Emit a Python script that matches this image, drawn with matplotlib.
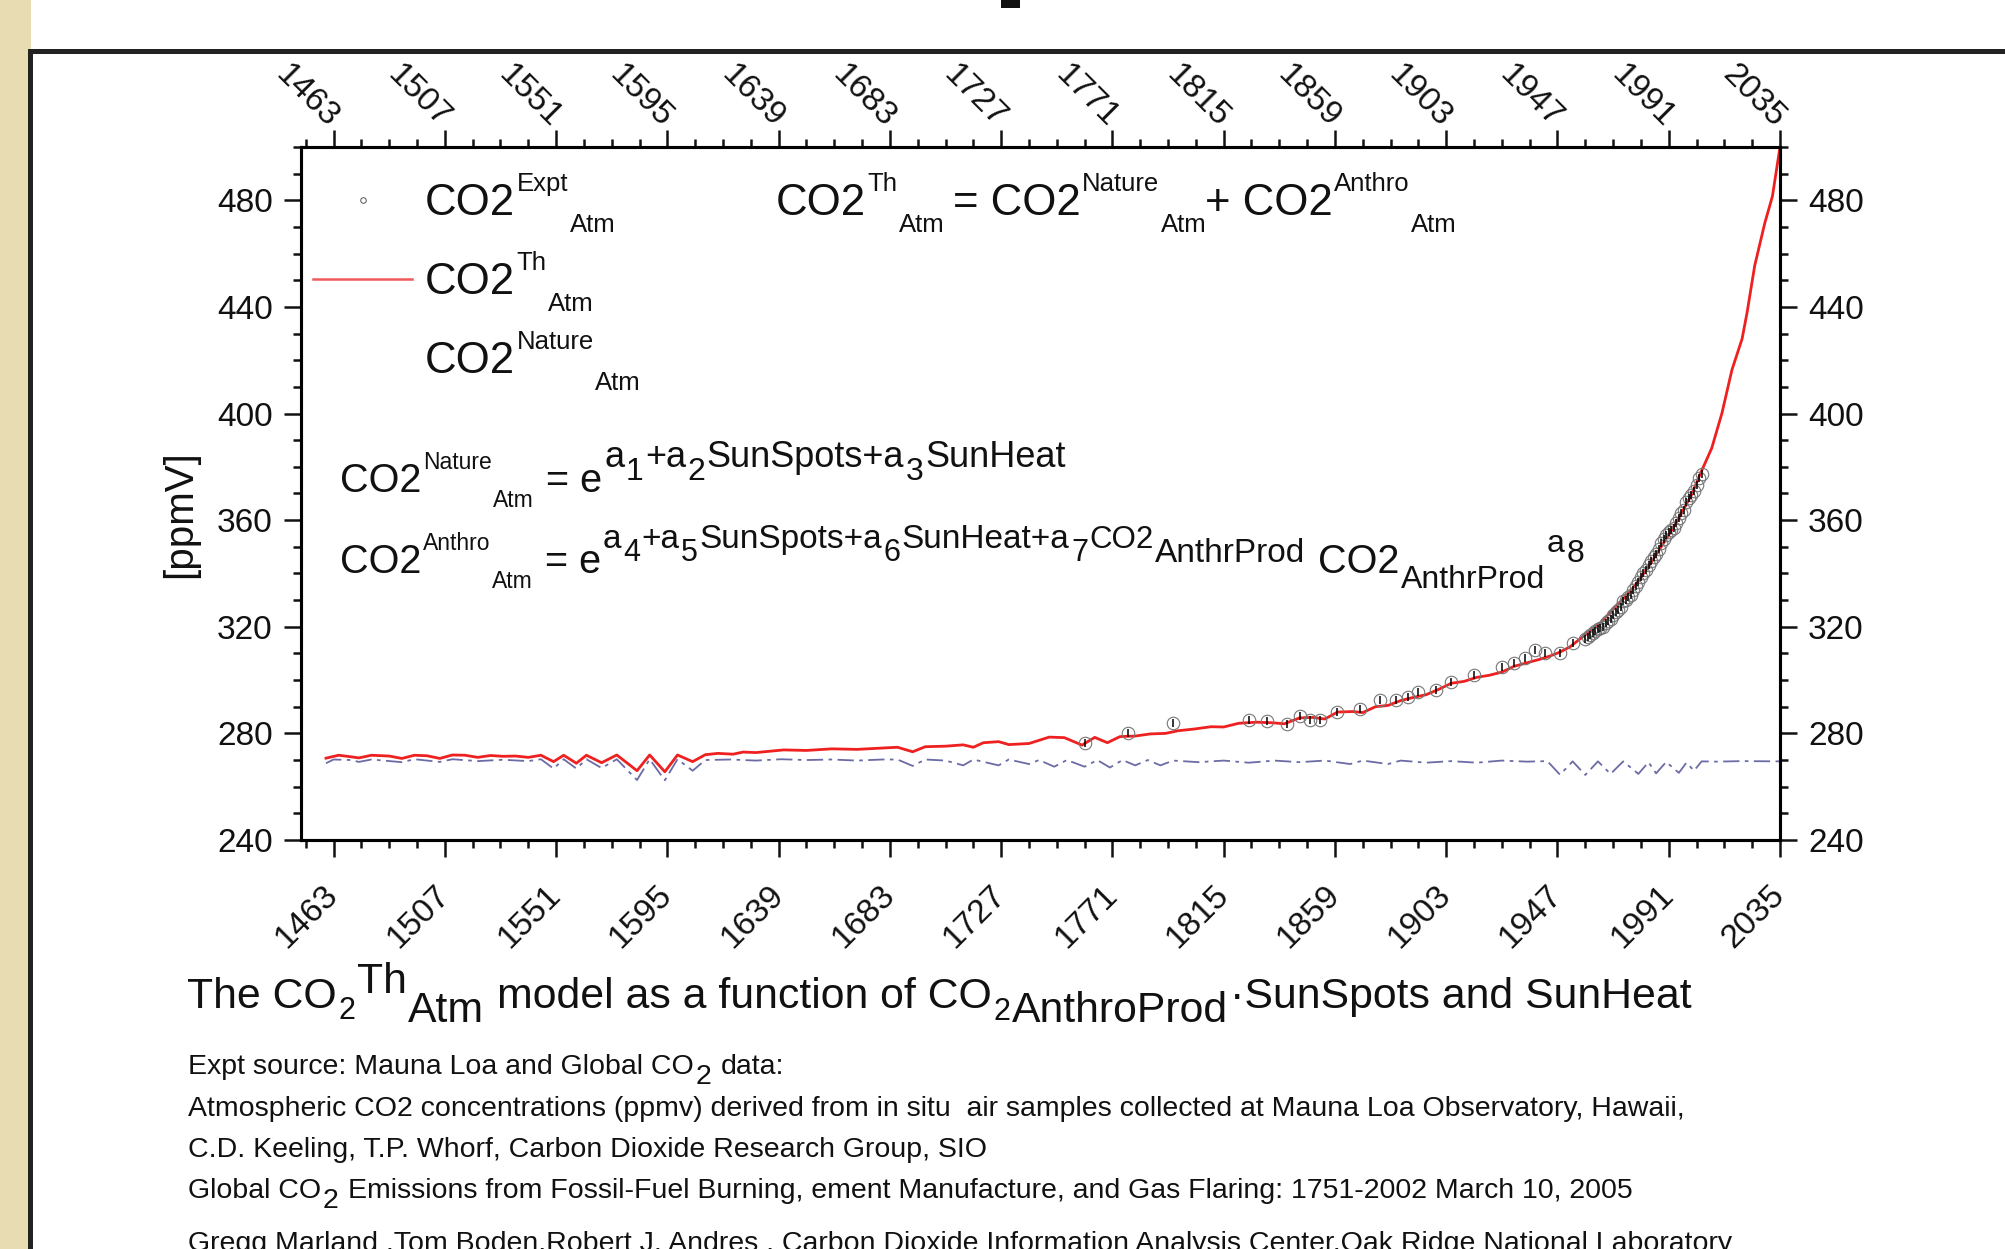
import matplotlib
matplotlib.use('Agg')
import matplotlib.pyplot as plt
from matplotlib.patches import Rectangle

plt.rcParams['font.family'] = ['Liberation Sans', 'DejaVu Sans']

W, H = 2005, 1249

# theoretical CO2 in atmosphere (red line)
th_years = [1460, 1465, 1470, 1473, 1478, 1485, 1490, 1495, 1500, 1505, 1510, 1515,
            1520, 1525, 1530, 1535, 1540, 1545, 1550, 1554, 1559, 1563, 1569, 1575,
            1583, 1588, 1594, 1599, 1605, 1610, 1615, 1621, 1625, 1630, 1641, 1650,
            1660, 1670, 1682, 1686, 1692, 1697, 1705, 1712, 1716, 1720, 1726, 1730,
            1738, 1746, 1752, 1759, 1764, 1769, 1774, 1780, 1786, 1792, 1797, 1803,
            1810, 1815, 1821, 1828, 1834, 1839, 1845, 1850, 1855, 1860, 1866, 1870,
            1875, 1880, 1885, 1890, 1895, 1900, 1905, 1910, 1915, 1920, 1925, 1930,
            1935, 1940, 1944, 1948, 1952, 1956, 1960, 1964, 1968, 1972, 1976, 1980,
            1984, 1988, 1992, 1996, 2000, 2004, 2008, 2012, 2016, 2020, 2022, 2025,
            2029, 2032, 2035]
th_vals = [270.7, 271.8, 271.2, 270.8, 271.8, 271.5, 270.6, 271.8, 271.6, 270.6, 271.9, 271.8,
           271.0, 271.7, 271.4, 271.5, 271.0, 271.8, 269.4, 271.8, 268.8, 271.8, 269.0, 271.9,
           266.0, 271.9, 265.6, 271.9, 269.4, 272.0, 272.5, 272.2, 273.0, 272.8, 273.8, 273.6,
           274.2, 274.0, 274.6, 274.8, 273.1, 275.0, 275.2, 275.7, 274.8, 276.5, 276.9, 275.8,
           276.2, 278.6, 278.4, 275.6, 278.5, 276.5, 278.8, 279.0, 279.8, 280.0, 281.0, 281.6,
           282.5, 282.4, 283.8, 284.2, 284.0, 283.6, 285.8, 286.0, 285.4, 288.0, 288.2, 287.8,
           290.0, 290.5, 292.3, 293.5, 294.5, 296.5, 298.8, 299.5, 301.0, 301.8, 303.0, 305.2,
           306.5, 307.8, 309.0, 310.5, 312.5, 315.5, 318.5, 321.5, 325.5, 329.5, 333.5, 338.5,
           344.0, 350.0, 356.0, 362.5, 369.5, 378.5, 387.0, 400.0, 416.4, 428.0, 438.0, 455.5,
           471.5, 481.5, 500.0]

# natural CO2 in atmosphere (blue dash-dot line)
nat_years = [1460, 1463, 1470, 1473, 1478, 1490, 1495, 1505, 1510, 1520, 1530, 1540,
             1545, 1550, 1554, 1559, 1563, 1569, 1575, 1583, 1588, 1594, 1599, 1605,
             1610, 1620, 1630, 1640, 1650, 1660, 1670, 1680, 1686, 1692, 1697, 1705,
             1712, 1716, 1726, 1730, 1738, 1742, 1748, 1753, 1760, 1765, 1770, 1775,
             1780, 1785, 1790, 1795, 1805, 1815, 1825, 1835, 1845, 1855, 1865, 1870,
             1880, 1885, 1895, 1905, 1915, 1925, 1935, 1943, 1948, 1953, 1958, 1963,
             1968, 1973, 1979, 1983, 1986, 1990, 1995, 1998, 2001, 2004, 2010, 2020, 2035]
nat_vals = [268.8, 270.2, 270.0, 269.3, 270.2, 269.2, 270.3, 269.3, 270.3, 269.6, 270.1, 269.6,
            270.3, 266.8, 270.3, 266.8, 270.3, 267.0, 270.3, 262.5, 270.3, 262.4, 270.3, 266.0,
            270.0, 270.2, 269.8, 270.3, 270.0, 270.2, 269.8, 270.2, 270.2, 267.8, 270.2, 269.8,
            268.0, 270.2, 268.0, 270.2, 268.5, 270.0, 267.5, 270.0, 267.5, 270.0, 267.2, 270.0,
            268.0, 270.0, 268.0, 269.8, 269.2, 269.8, 269.0, 269.8, 269.2, 269.8, 268.5, 269.8,
            268.5, 269.8, 269.0, 269.6, 269.0, 269.8, 269.4, 269.6, 264.5, 269.5, 264.4, 269.5,
            264.8, 269.5, 264.8, 269.2, 265.0, 269.3, 265.2, 269.0, 266.0, 269.5, 269.4, 269.6, 269.5]

# experimental CO2 (open circles)
expt_years = [1760, 1777, 1795, 1825, 1832, 1840, 1845, 1849, 1853, 1860, 1869, 1877,
              1883, 1888, 1892, 1899, 1905, 1914, 1925, 1930, 1934, 1938, 1942, 1948,
              1953, 1958, 1959, 1960, 1961, 1962, 1963, 1964, 1965, 1966, 1967, 1968,
              1969, 1970, 1971, 1972, 1973, 1974, 1975, 1976, 1977, 1978, 1979, 1980,
              1981, 1982, 1983, 1984, 1985, 1986, 1987, 1988, 1989, 1990, 1991, 1992,
              1993, 1994, 1995, 1996, 1997, 1998, 1999, 2000, 2001, 2002, 2003, 2004]
expt_vals = [276.3, 280.0, 283.8, 285.0, 284.5, 283.6, 286.5, 285.0, 285.2, 288.0, 289.0, 292.5,
             292.6, 293.8, 295.7, 296.3, 299.4, 301.9, 305.0, 306.3, 308.1, 311.3, 310.0, 310.0,
             313.8, 315.3, 316.0, 316.9, 317.6, 318.5, 319.0, 319.6, 320.0, 321.4, 322.2, 323.0,
             324.6, 325.7, 326.3, 327.5, 329.7, 330.2, 331.1, 332.0, 333.8, 335.4, 336.8, 338.7,
             340.1, 341.4, 343.0, 344.6, 346.0, 347.4, 349.2, 351.6, 353.1, 354.4, 355.6, 356.4,
             357.1, 358.8, 360.8, 362.6, 363.7, 366.7, 368.3, 369.5, 371.1, 373.2, 375.8, 377.5]

year_ticks = [1463, 1507, 1551, 1595, 1639, 1683, 1727, 1771, 1815, 1859, 1903, 1947, 1991, 2035]
year_minor = [1452 + 11 * i for i in range(54)]
ppm_ticks = [240, 280, 320, 360, 400, 440, 480]
ppm_minor = list(range(240, 501, 10))

TXT = '#111111'

fig = plt.figure(figsize=(W / 100, H / 100), dpi=100)
fig.patch.set_facecolor('white')

# page decoration: beige strip and dark frame lines
fig.patches.append(Rectangle((0, 0), 31 / W, 1, transform=fig.transFigure,
                             facecolor='#e8dcb2', edgecolor='none', zorder=0))
fig.patches.append(Rectangle((28 / W, 0), 5 / W, 1 - 49 / H, transform=fig.transFigure,
                             facecolor='#222222', edgecolor='none', zorder=1))
fig.patches.append(Rectangle((28 / W, 1 - 54 / H), 1, 5 / H, transform=fig.transFigure,
                             facecolor='#222222', edgecolor='none', zorder=1))
fig.patches.append(Rectangle((1001 / W, 1 - 8 / H), 19 / W, 8 / H, transform=fig.transFigure,
                             facecolor='#111111', edgecolor='none', zorder=1))

ax = fig.add_axes([300.7 / W, 1 - 840 / H, (1780 - 300.7) / W, (840 - 147) / H])

ax.plot(nat_years, nat_vals, color='#6b6ba6', lw=1.3, ls=(0, (9, 3, 2, 3)), zorder=2)
ax.plot(th_years, th_vals, color='#ee2020', lw=2.0, zorder=3)
ax.plot(expt_years, expt_vals, ls='none', marker='o', ms=9, mfc='none',
        mec='#777777', mew=0.8, zorder=4)
ax.plot(expt_years, expt_vals, ls='none', marker='|', ms=6, mec='black',
        mew=1.1, zorder=5)

ax.set_xlim(1450, 2035)
ax.set_ylim(240, 500)

for sp in ax.spines.values():
    sp.set_linewidth(2.2)
    sp.set_color('black')

ax.set_yticks(ppm_ticks)
ax.set_yticks(ppm_minor, minor=True)
ax.tick_params(axis='y', which='both', direction='out', left=True, right=True,
               labelleft=True, labelright=True, labelsize=24, pad=8, width=1.8, colors=TXT)
ax.tick_params(axis='y', which='major', length=12.2)
ax.tick_params(axis='y', which='minor', length=6)

ax.set_xticks(year_ticks)
ax.set_xticks(year_minor, minor=True)
ax.set_xticklabels([str(y) for y in year_ticks], rotation=45, ha='right', va='center',
                   rotation_mode='anchor')
ax.tick_params(axis='x', which='both', direction='out', labelsize=24, pad=24, width=1.8,
               colors=TXT, top=False)
ax.tick_params(axis='x', which='major', length=12.2)
ax.tick_params(axis='x', which='minor', length=6)

ax2 = ax.twiny()
ax2.set_xlim(ax.get_xlim())
for sp in ax2.spines.values():
    sp.set_linewidth(2.2)
ax2.set_xticks(year_ticks)
ax2.set_xticks(year_minor, minor=True)
ax2.set_xticklabels([str(y) for y in year_ticks], rotation=-45, ha='right', va='center',
                    rotation_mode='anchor')
ax2.tick_params(axis='x', which='both', direction='out', labelsize=24, pad=5.5, width=1.8,
                colors=TXT)
ax2.tick_params(axis='x', which='major', length=12.2)
ax2.tick_params(axis='x', which='minor', length=6)

fig.text(180 / W, 1 - 514 / H, '[ppmV]', rotation=90, fontsize=29, ha='center',
         va='center', color=TXT)

# legend samples
ax.plot([0.0421], [0.9235], transform=ax.transAxes, marker='o', ms=4, mfc='none',
        mec='#666666', mew=0.8, clip_on=False)
ax.plot([0.0083, 0.0752], [0.8095, 0.8095], transform=ax.transAxes, color='#f05a5a',
        lw=1.8, clip_on=False)

renderer = fig.canvas.get_renderer()


def rich(x0, y0, pieces):
    # pieces: (text, fontsize, baseline shift px (+ = down)[, extra gap px])
    x = x0
    first = True
    for p in pieces:
        s, size, dy = p[0], p[1], p[2]
        gap = p[3] if len(p) > 3 else 1.5
        if not first:
            x += gap
        first = False
        sp = 0.278 * size * 100 / 72
        lead = len(s) - len(s.lstrip(' '))
        trail = len(s) - len(s.rstrip(' '))
        x += lead * sp
        t = fig.text(x / W, 1 - (y0 + dy) / H, s.strip(' '), fontsize=size,
                     ha='left', va='baseline', color=TXT)
        bb = t.get_window_extent(renderer=renderer)
        x = bb.x1 + trail * sp


big, sup = 31.5, 18.5
rich(425, 215, [('CO2', big, 0), ('Expt', sup, -24), ('Atm', sup, 17)])
rich(425, 294, [('CO2', big, 0), ('Th', sup, -24), ('Atm', sup, 17)])
rich(425, 373, [('CO2', big, 0), ('Nature', sup, -24), ('Atm', sup, 17)])

rich(776, 215, [('CO2', big, 0), ('Th', sup, -24), ('Atm', sup, 17),
                ('= CO2', big, 0, 8), ('Nature', sup, -24), ('Atm', sup, 17),
                ('+ CO2', big, 0, -2), ('Anthro', sup, -24), ('Atm', sup, 17)])

eq, es = 28.5, 16.5
e1, d1 = 26, 23
rich(340, 492, [('CO2', eq, 0), ('Nature', es, -23), ('Atm', es, 15), (' = e', eq, 0),
                ('a', e1, -25), ('1', d1, -12), ('+a', e1, -25), ('2', d1, -12),
                ('SunSpots+a', e1, -25), ('3', d1, -12), ('SunHeat', e1, -25)])
e2, d2 = 24, 22
rich(340, 573, [('CO2', eq, 0), ('Anthro', es, -23), ('Atm', es, 15), (' = e', eq, 0),
                ('a', e2, -25), ('4', d2, -12), ('+a', e2, -25), ('5', d2, -12),
                ('SunSpots+a', e2, -25), ('6', d2, -12), ('SunHeat+a', e2, -25),
                ('7', d2, -12), ('CO2', 22.5, -25), ('AnthrProd', e2, -11),
                (' CO2', eq, 0), ('AnthrProd', 23, 15), ('a', 23, -21), ('8', 23, -11)])

cap = 30.8
rich(187, 1008, [('The CO', cap, 0), ('2', 22, 11), ('Th', cap, -15), ('Atm', cap, 14),
                 (' model as a function of CO', cap, 0), ('2', 22, 12),
                 ('AnthroProd', cap, 14), ('\u00b7SunSpots and SunHeat', cap, 0)])

src = 20.5
rich(188, 1074, [('Expt source: Mauna Loa and Global CO', src, 0), ('2', src, 10),
                 (' data:', src, 0)])
rich(188, 1116, [('Atmospheric CO2 concentrations (ppmv) derived from in situ  air samples '
                  'collected at Mauna Loa Observatory, Hawaii,', src, 0)])
rich(188, 1157, [('C.D. Keeling, T.P. Whorf, Carbon Dioxide Research Group, SIO', src, 0)])
rich(188, 1198, [('Global CO', src, 0), ('2', src, 10),
                 (' Emissions from Fossil-Fuel Burning, ement Manufacture, and Gas Flaring: '
                  '1751-2002 March 10, 2005', src, 0)])
rich(188, 1251, [('Gregg Marland ,Tom Boden,Robert J. Andres , Carbon Dioxide Information '
                  'Analysis Center,Oak Ridge National Laboratory', src, 0)])

fig.savefig('out.png', dpi=100)
